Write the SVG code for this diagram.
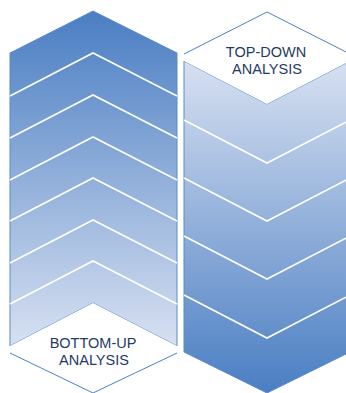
<svg xmlns="http://www.w3.org/2000/svg" width="346" height="393" viewBox="0 0 346 393">
<style>
.edge{stroke:#4d80c6;stroke-width:1;fill:none}
.div{stroke:#ffffff;stroke-width:1.6;fill:none}
.lbl{font-family:"Liberation Sans",Arial,sans-serif;font-size:14.5px;fill:#1f3a66;text-anchor:middle}
</style>
<defs>
<linearGradient id="gUp" x1="0" y1="0" x2="0" y2="1">
<stop offset="0" stop-color="#4a7ec3"/>
<stop offset="1" stop-color="#d7e0f1"/>
</linearGradient>
<linearGradient id="gDown" x1="0" y1="0" x2="0" y2="1">
<stop offset="0" stop-color="#d7e0f1"/>
<stop offset="1" stop-color="#4a7ec3"/>
</linearGradient>
</defs>
<rect width="346" height="393" fill="#ffffff"/>
<g id="bottom-up">
<polygon points="10,53 93,11 177,53 177,346 93,303 10,346" fill="url(#gUp)" stroke="#5a8bca" stroke-width="1"/>
<g class="div">
<polyline points="10,96 93,53 177,96"/>
<polyline points="10,138 93,95 177,138"/>
<polyline points="10,180 93,137 177,180"/>
<polyline points="10,221 93,178 177,221"/>
<polyline points="10,263 93,220 177,263"/>
<polyline points="10,304 93,261 177,304"/>
</g>
<polygon points="10,346 93,303 177,346 177,353 93,393 10,353" fill="#ffffff"/>
<polyline class="edge" points="10,353 93,393 177,353"/>
<text class="lbl" x="93" y="347.5">BOTTOM-UP</text>
<text class="lbl" x="94" y="364.5">ANALYSIS</text>
</g>
<g id="top-down">
<polygon points="184,61 267,104 350,61 350,352 267,393 184,352" fill="url(#gDown)" stroke="#5a8bca" stroke-width="1"/>
<g class="div">
<polyline points="184,120 267,163 350,120"/>
<polyline points="184,178 267,221 350,178"/>
<polyline points="184,236 267,279 350,236"/>
<polyline points="184,295 267,338 350,295"/>
</g>
<polygon points="184,54 267,12 350,54 350,61 267,104 184,61" fill="#ffffff"/>
<polyline class="edge" points="184,54 267,12 350,54"/>
<text class="lbl" x="266" y="56.5">TOP-DOWN</text>
<text class="lbl" x="267" y="73.5">ANALYSIS</text>
</g>
<g id="connectors"></g>
</svg>
